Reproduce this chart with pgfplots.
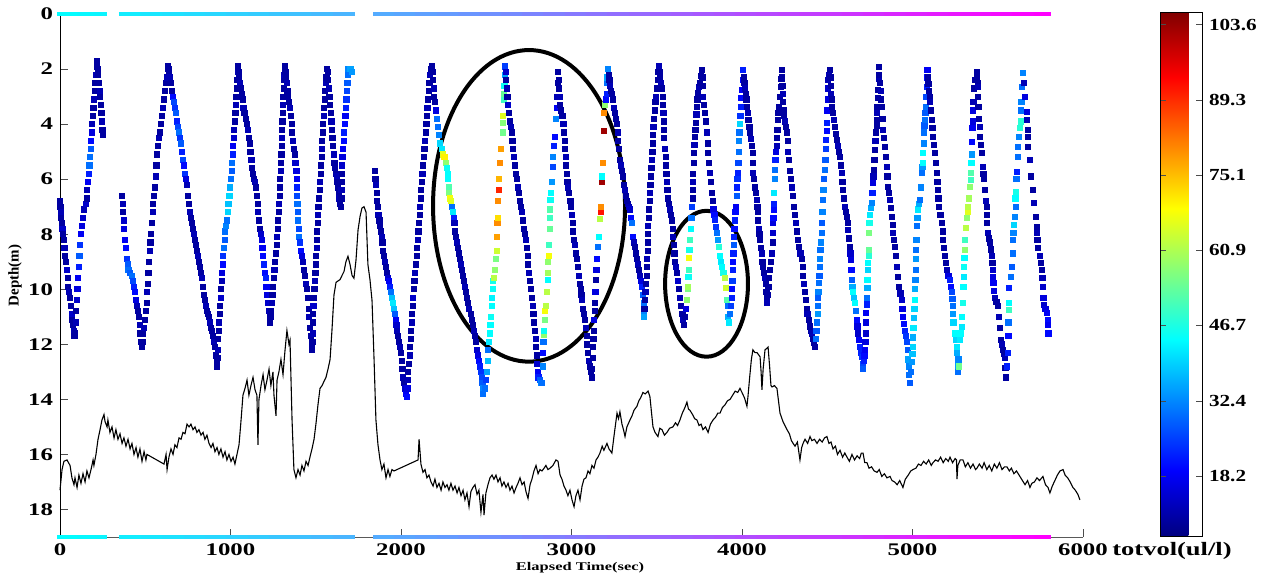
\documentclass[border=0pt]{standalone}
\usepackage{pgfplots}
\pgfplotsset{compat=1.18}
\usepackage{pgfplotstable}
\usepackage{graphicx}
\usepackage{fontspec}
\setmainfont{Liberation Serif}
\pgfplotsset{colormap={timecool}{rgb255=(0,255,255) rgb255=(255,0,255)}}
\newcommand{\sx}[1]{\scalebox{1.4}[1]{#1}}
\newcommand{\scb}[1]{\scalebox{1.25}[1]{#1}}

% yo-yo casts: time (s), depth (m), totvol (ul/l)
\pgfplotstableread[row sep=\\]{
t d c\\
0 6.8 10\\ 2 7.0 10\\ 4 7.2 12\\ 6 7.4 10\\ 10 7.6 10\\ 14 7.8 14\\ 18 8.0 10\\ 22 8.2 10\\ 26 8.5 12\\ 30 8.8 10\\ 35 9.0 10\\ 40 9.3 14\\ 44 9.6 10\\ 48 9.9 10\\ 52 10.1 12\\ 58 10.3 10\\ 64 10.6 10\\ 68 10.9 14\\ 72 11.1 10\\ 76 11.3 10\\ 80 11.5 12\\ 84 11.7 10\\
88 11.6 10\\ 92 11.2 12\\ 95 10.8 10\\ 98 10.4 14\\ 102 10.0 16\\ 106 9.6 18\\ 110 9.2 22\\ 114 8.8 28\\ 118 8.4 24\\ 124 8.0 18\\ 130 7.7 16\\ 136 7.4 14\\ 142 7.1 12\\ 150 6.9 14\\ 156 6.7 10\\ 160 6.4 12\\ 164 6.1 18\\ 168 5.8 22\\ 172 5.5 30\\ 176 5.2 30\\ 180 4.9 28\\ 183 4.6 20\\ 186 4.3 16\\ 189 4.0 12\\ 192 3.7 10\\ 196 3.4 10\\ 200 3.1 12\\ 204 2.8 10\\ 208 2.5 10\\ 212 2.2 12\\ 215 1.9 10\\ 217 1.7 10\\
220 2.0 10\\ 224 2.2 10\\ 228 2.5 10\\ 232 2.8 12\\ 236 3.0 10\\ 240 3.3 10\\ 243 3.6 10\\ 246 3.9 12\\ 249 4.2 10\\ 252 4.4 10\\
364 6.6 10\\ 367 6.9 12\\ 370 7.2 10\\ 373 7.5 14\\ 377 7.8 16\\ 381 8.2 18\\ 386 8.5 20\\ 391 8.9 24\\ 396 9.1 28\\ 401 9.3 30\\ 410 9.4 28\\ 420 9.5 30\\ 426 9.7 26\\ 432 9.9 22\\ 437 10.1 20\\ 443 10.4 16\\ 449 10.6 12\\ 455 10.8 10\\ 461 11.0 10\\ 467 11.3 12\\ 472 11.6 10\\ 477 11.9 10\\ 481 12.1 10\\
484 11.9 10\\ 488 11.6 10\\ 492 11.4 12\\ 497 11.1 10\\ 503 10.8 10\\ 508 10.5 10\\ 512 10.1 12\\ 516 9.8 10\\ 519 9.4 10\\ 522 9.0 10\\ 526 8.6 12\\ 530 8.3 10\\ 535 8.0 10\\ 540 7.6 10\\ 543 7.2 12\\ 547 6.9 10\\ 552 6.6 10\\ 557 6.3 10\\ 561 5.9 12\\ 565 5.5 10\\ 569 5.1 10\\ 574 4.8 10\\ 580 4.5 12\\ 587 4.3 10\\ 593 4.0 10\\ 598 3.7 10\\ 604 3.4 12\\ 610 3.1 10\\ 616 2.8 10\\ 622 2.5 10\\ 628 2.3 12\\ 632 2.0 10\\ 634 1.9 10\\
637 2.0 10\\ 641 2.1 10\\ 645 2.3 12\\ 651 2.5 10\\ 657 2.8 10\\ 664 3.0 20\\ 670 3.2 26\\ 676 3.4 24\\ 682 3.6 28\\ 687 3.9 22\\ 692 4.1 26\\ 698 4.3 30\\ 704 4.5 24\\ 710 4.7 28\\ 716 5.0 22\\ 721 5.3 26\\ 727 5.5 20\\ 733 5.8 24\\ 739 6.0 16\\ 745 6.2 12\\ 751 6.6 10\\ 757 6.9 10\\ 762 7.2 12\\ 768 7.4 10\\ 774 7.6 10\\ 780 7.8 10\\ 786 8.0 12\\ 792 8.2 10\\ 798 8.4 10\\ 804 8.6 10\\ 810 8.8 12\\ 815 9.0 10\\ 821 9.2 10\\ 827 9.4 10\\ 833 9.6 12\\ 839 9.9 10\\ 845 10.2 10\\ 850 10.4 10\\ 856 10.6 12\\ 862 10.8 10\\ 868 10.9 10\\ 874 11.0 10\\ 880 11.2 12\\ 886 11.4 10\\ 892 11.5 10\\ 898 11.7 10\\ 904 11.9 12\\ 909 12.1 10\\ 914 12.4 10\\ 918 12.6 10\\ 921 12.8 10\\
923 12.5 10\\ 925 12.2 12\\ 927 11.8 10\\ 930 11.5 10\\ 933 11.2 12\\ 936 10.9 10\\ 939 10.6 10\\ 942 10.3 14\\ 945 10.0 10\\ 948 9.7 12\\ 951 9.4 16\\ 954 9.1 20\\ 957 8.8 24\\ 961 8.5 30\\ 965 8.2 28\\ 969 7.9 30\\ 974 7.7 32\\ 979 7.5 30\\ 983 7.2 40\\ 988 6.9 38\\ 993 6.6 40\\ 998 6.3 36\\ 1003 6.0 30\\ 1007 5.7 28\\ 1010 5.4 30\\ 1013 5.1 22\\ 1016 4.8 18\\ 1019 4.5 14\\ 1022 4.2 12\\ 1025 3.9 10\\ 1029 3.6 10\\ 1032 3.3 12\\ 1035 3.0 10\\ 1038 2.7 10\\ 1041 2.4 10\\ 1043 2.1 12\\ 1044 1.9 10\\
1047 2.1 10\\ 1051 2.3 10\\ 1056 2.5 12\\ 1061 2.7 10\\ 1066 2.9 10\\ 1071 3.1 10\\ 1076 3.4 12\\ 1082 3.6 10\\ 1088 3.8 10\\ 1094 4.0 10\\ 1100 4.2 12\\ 1106 4.5 10\\ 1112 4.7 10\\ 1117 5.0 10\\ 1122 5.3 12\\ 1127 5.6 10\\ 1133 5.8 10\\ 1139 6.0 10\\ 1145 6.1 12\\ 1150 6.3 10\\ 1155 6.6 10\\ 1159 6.9 10\\ 1163 7.2 12\\ 1167 7.5 10\\ 1172 7.8 10\\ 1177 8.0 14\\ 1182 8.2 16\\ 1187 8.5 18\\ 1191 8.8 20\\ 1196 9.1 22\\ 1201 9.4 20\\ 1206 9.6 22\\ 1211 9.9 18\\ 1216 10.2 16\\ 1221 10.5 14\\ 1226 10.8 12\\ 1230 11.0 10\\ 1233 11.2 10\\
1236 11.0 10\\ 1239 10.8 10\\ 1242 10.5 12\\ 1246 10.2 10\\ 1250 9.9 10\\ 1254 9.6 10\\ 1258 9.3 12\\ 1262 9.0 10\\ 1266 8.7 10\\ 1270 8.4 10\\ 1273 8.1 12\\ 1276 7.8 10\\ 1279 7.5 10\\ 1282 7.2 10\\ 1285 6.9 12\\ 1288 6.6 10\\ 1290 6.3 10\\ 1292 6.0 10\\ 1294 5.7 12\\ 1296 5.4 10\\ 1298 5.1 10\\ 1300 4.8 10\\ 1302 4.5 12\\ 1303 4.2 10\\ 1304 3.9 10\\ 1306 3.6 10\\ 1307 3.3 12\\ 1309 3.0 10\\ 1311 2.7 10\\ 1313 2.4 10\\ 1315 2.2 12\\ 1318 1.9 10\\
1322 2.1 10\\ 1326 2.3 10\\ 1330 2.5 12\\ 1334 2.8 10\\ 1338 3.0 10\\ 1343 3.2 10\\ 1348 3.4 12\\ 1353 3.7 10\\ 1358 4.0 10\\ 1362 4.3 10\\ 1366 4.6 12\\ 1371 4.9 10\\ 1376 5.1 10\\ 1381 5.4 14\\ 1386 5.7 16\\ 1389 6.0 18\\ 1390 6.3 22\\ 1391 6.6 26\\ 1392 6.9 30\\ 1394 7.2 28\\ 1396 7.5 30\\ 1399 7.8 26\\ 1403 8.1 30\\ 1408 8.3 24\\ 1413 8.6 20\\ 1419 8.8 16\\ 1425 9.0 12\\ 1431 9.3 10\\ 1437 9.5 10\\ 1443 9.8 12\\ 1449 10.0 10\\ 1454 10.3 10\\ 1458 10.7 10\\ 1462 11.0 12\\ 1466 11.4 10\\ 1471 11.7 10\\ 1476 12.0 10\\ 1479 12.2 10\\
1480 11.9 10\\ 1482 11.6 12\\ 1483 11.2 10\\ 1484 10.9 10\\ 1486 10.6 14\\ 1489 10.3 10\\ 1492 10.0 10\\ 1495 9.7 12\\ 1498 9.4 10\\ 1501 9.1 10\\ 1503 8.8 10\\ 1505 8.5 12\\ 1507 8.2 10\\ 1509 7.9 10\\ 1511 7.6 10\\ 1513 7.3 12\\ 1516 7.0 10\\ 1519 6.7 10\\ 1522 6.4 10\\ 1525 6.1 12\\ 1528 5.8 10\\ 1531 5.5 10\\ 1534 5.2 10\\ 1536 4.9 12\\ 1538 4.6 10\\ 1540 4.3 10\\ 1542 4.0 10\\ 1546 3.7 12\\ 1550 3.4 10\\ 1553 3.1 10\\ 1556 2.8 10\\ 1559 2.5 12\\ 1562 2.3 10\\ 1565 2.0 10\\
1569 2.1 10\\ 1572 2.4 10\\ 1576 2.7 12\\ 1580 3.0 10\\ 1584 3.3 10\\ 1588 3.6 10\\ 1592 3.9 12\\ 1595 4.2 10\\ 1598 4.5 10\\ 1601 4.8 10\\ 1605 5.1 12\\ 1609 5.4 10\\ 1613 5.6 10\\ 1618 5.8 10\\ 1623 5.9 12\\ 1627 6.1 10\\ 1631 6.3 10\\ 1635 6.5 10\\ 1639 6.7 12\\ 1643 6.9 10\\ 1647 7.0 10\\
1650 6.7 10\\ 1651 6.4 12\\ 1652 6.1 10\\ 1653 5.8 10\\ 1654 5.5 14\\ 1656 5.2 16\\ 1659 4.9 18\\ 1663 4.6 20\\ 1667 4.3 22\\ 1671 4.0 20\\ 1674 3.7 18\\ 1677 3.4 22\\ 1680 3.1 24\\ 1683 2.8 26\\ 1686 2.5 28\\ 1689 2.2 30\\ 1692 2.0 32\\ 1703 2.0 35\\ 1712 2.1 34\\
1847 5.7 10\\ 1850 6.0 10\\ 1854 6.2 12\\ 1857 6.5 10\\ 1860 6.8 10\\ 1864 7.0 10\\ 1868 7.3 12\\ 1873 7.5 10\\ 1878 7.7 10\\ 1882 7.9 10\\ 1887 8.1 12\\ 1891 8.3 10\\ 1896 8.6 10\\ 1901 8.8 10\\ 1906 9.0 12\\ 1912 9.2 10\\ 1918 9.4 10\\ 1924 9.6 14\\ 1930 9.7 18\\ 1936 9.9 22\\ 1942 10.1 30\\ 1948 10.3 38\\ 1953 10.5 42\\ 1958 10.7 38\\ 1963 10.9 28\\ 1968 11.1 18\\ 1973 11.3 14\\ 1978 11.5 12\\ 1983 11.7 10\\ 1988 11.9 10\\ 1993 12.1 12\\ 1998 12.3 10\\ 2003 12.6 10\\ 2008 12.9 10\\ 2013 13.2 12\\ 2018 13.4 10\\ 2024 13.6 14\\ 2030 13.8 18\\ 2035 13.9 20\\
2037 13.6 16\\ 2039 13.3 12\\ 2042 13.0 10\\ 2046 12.7 10\\ 2050 12.4 12\\ 2053 12.1 10\\ 2056 11.8 10\\ 2059 11.5 10\\ 2062 11.2 12\\ 2065 10.9 10\\ 2068 10.6 10\\ 2071 10.3 14\\ 2075 10.0 10\\ 2079 9.7 10\\ 2083 9.4 12\\ 2087 9.1 10\\ 2091 8.8 10\\ 2095 8.5 10\\ 2099 8.2 12\\ 2102 7.9 10\\ 2105 7.6 10\\ 2109 7.3 10\\ 2112 7.0 12\\ 2115 6.7 10\\ 2119 6.4 10\\ 2123 6.1 10\\ 2126 5.8 12\\ 2129 5.5 10\\ 2133 5.2 10\\ 2137 4.9 10\\ 2141 4.6 12\\ 2145 4.3 10\\ 2149 4.0 10\\ 2152 3.7 10\\ 2155 3.4 12\\ 2158 3.1 10\\ 2162 2.8 10\\ 2166 2.5 10\\ 2170 2.2 12\\ 2176 2.0 10\\ 2182 1.9 10\\
2185 2.1 10\\ 2188 2.4 10\\ 2191 2.7 12\\ 2195 3.0 10\\ 2200 3.2 10\\ 2205 3.5 16\\ 2210 3.8 30\\ 2215 4.1 30\\ 2220 4.4 32\\ 2228 4.7 40\\ 2238 4.9 42\\ 2248 5.1 66\\ 2254 5.2 70\\ 2264 5.4 58\\ 2270 5.6 45\\ 2274 5.8 44\\ 2276 6.0 44\\ 2279 6.3 52\\ 2281 6.5 56\\ 2287 6.7 68\\ 2293 6.8 66\\ 2299 7.0 30\\ 2305 7.2 42\\ 2309 7.4 22\\ 2313 7.6 12\\ 2318 7.9 10\\ 2323 8.1 10\\ 2329 8.3 12\\ 2335 8.5 10\\ 2341 8.7 10\\ 2347 8.9 10\\ 2352 9.1 12\\ 2358 9.3 10\\ 2364 9.5 10\\ 2370 9.7 10\\ 2376 9.9 12\\ 2382 10.1 10\\ 2388 10.3 10\\ 2394 10.5 10\\ 2400 10.7 12\\ 2408 10.9 10\\ 2416 11.1 10\\ 2422 11.3 10\\ 2428 11.5 12\\ 2434 11.7 10\\ 2440 11.9 10\\ 2446 12.2 14\\ 2452 12.4 16\\ 2458 12.6 20\\ 2464 12.8 22\\ 2470 13.0 24\\ 2474 13.2 26\\ 2477 13.4 28\\ 2480 13.6 32\\ 2482 13.8 30\\
2490 13.6 30\\ 2498 13.3 25\\ 2504 13.0 35\\ 2508 12.6 38\\ 2512 12.2 30\\ 2516 11.9 42\\ 2520 11.6 44\\ 2524 11.3 44\\ 2528 11.0 45\\ 2531 10.6 44\\ 2534 10.3 43\\ 2538 10.0 45\\ 2541 9.7 46\\ 2545 9.6 62\\ 2551 9.3 58\\ 2557 8.9 56\\ 2561 8.6 64\\ 2563 8.1 78\\ 2565 7.6 80\\ 2568 7.4 72\\ 2569 6.8 80\\ 2572 6.4 90\\ 2575 6.0 76\\ 2578 5.4 80\\ 2586 4.9 78\\ 2596 4.3 55\\ 2598 3.95 57\\ 2600 3.7 66\\ 2602 3.1 50\\ 2604 2.9 54\\ 2606 2.6 45\\ 2608 2.2 35\\ 2610 1.9 25\\
2613 2.1 14\\ 2616 2.4 10\\ 2620 2.7 12\\ 2624 3.0 10\\ 2628 3.3 14\\ 2634 3.6 10\\ 2640 3.9 10\\ 2646 4.1 12\\ 2651 4.3 10\\ 2653 4.6 10\\ 2656 4.9 10\\ 2661 5.2 12\\ 2667 5.5 10\\ 2673 5.8 10\\ 2679 6.0 10\\ 2686 6.3 12\\ 2692 6.5 10\\ 2698 6.8 10\\ 2704 7.0 10\\ 2710 7.2 12\\ 2715 7.5 10\\ 2720 7.8 10\\ 2727 8.0 10\\ 2733 8.2 12\\ 2738 8.5 10\\ 2742 8.8 10\\ 2745 9.1 10\\ 2750 9.4 12\\ 2756 9.7 10\\ 2762 10.0 10\\ 2768 10.3 10\\ 2773 10.6 12\\ 2777 10.9 10\\ 2781 11.2 10\\ 2785 11.5 10\\ 2789 11.8 12\\ 2792 12.1 10\\ 2795 12.4 10\\ 2798 12.7 14\\ 2801 13.0 18\\ 2806 13.2 22\\ 2813 13.3 28\\ 2820 13.4 32\\ 2827 13.4 30\\
2833 12.8 32\\ 2834 12.3 20\\ 2835 11.9 30\\ 2836 11.65 58\\ 2838 11.5 45\\ 2845 11.1 56\\ 2846 10.8 68\\ 2850 10.6 62\\ 2856 10.1 62\\ 2860 9.65 44\\ 2862 9.4 60\\ 2863 9.0 58\\ 2866 8.8 68\\ 2868 8.4 50\\ 2872 7.8 54\\ 2874 7.4 50\\ 2875 7.1 52\\ 2876 6.75 45\\ 2880 6.5 44\\ 2886 6.1 34\\ 2890 5.55 26\\ 2892 5.2 32\\ 2896 4.8 22\\ 2902 4.46 20\\ 2908 3.8 32\\ 2913 3.4 18\\ 2915 3.0 12\\ 2918 2.5 10\\ 2921 2.1 10\\
2924 2.4 10\\ 2927 2.7 10\\ 2930 3.0 12\\ 2933 3.3 10\\ 2940 3.5 10\\ 2947 3.7 10\\ 2952 4.0 12\\ 2956 4.3 10\\ 2960 4.6 10\\ 2963 4.9 10\\ 2966 5.2 12\\ 2969 5.5 10\\ 2972 5.8 10\\ 2976 6.1 10\\ 2981 6.3 12\\ 2987 6.5 10\\ 2993 6.8 10\\ 2998 7.0 10\\ 3002 7.3 12\\ 3006 7.6 10\\ 3010 7.9 10\\ 3015 8.2 10\\ 3020 8.4 12\\ 3026 8.7 10\\ 3032 8.9 10\\ 3038 9.2 10\\ 3043 9.5 12\\ 3048 9.8 10\\ 3053 10.0 10\\ 3058 10.2 10\\ 3063 10.4 12\\ 3068 10.7 10\\ 3074 10.9 10\\ 3079 11.1 10\\ 3084 11.4 12\\ 3088 11.7 10\\ 3092 12.0 10\\ 3096 12.3 10\\ 3101 12.6 12\\ 3106 12.8 10\\ 3112 13.0 10\\ 3118 13.2 10\\
3122 12.9 10\\ 3124 12.5 10\\ 3126 12.1 10\\ 3128 11.8 10\\ 3130 11.5 10\\ 3132 11.1 16\\ 3135 10.8 10\\ 3138 10.5 10\\ 3140 10.1 16\\ 3144 9.65 10\\ 3146 9.3 16\\ 3150 8.9 20\\ 3155 8.45 30\\ 3161 8.1 44\\ 3167 7.45 62\\ 3172 7.2 92\\ 3173 7.0 80\\ 3179 6.1 103\\ 3180 5.9 44\\ 3185 5.4 80\\ 3188 4.25 103\\ 3190 3.6 80\\ 3196 3.3 58\\ 3202 3.1 20\\ 3206 2.9 22\\ 3208 2.5 30\\ 3211 2.3 35\\ 3214 2.0 32\\
3218 2.2 10\\ 3222 2.4 10\\ 3227 2.6 12\\ 3232 2.8 10\\ 3237 2.9 10\\ 3243 3.1 10\\ 3249 3.4 12\\ 3255 3.6 10\\ 3261 3.8 10\\ 3267 4.0 10\\ 3270 4.3 12\\ 3273 4.6 10\\ 3278 4.9 10\\ 3284 5.3 10\\ 3290 5.5 12\\ 3296 5.7 10\\ 3302 5.9 10\\ 3308 6.2 10\\ 3314 6.4 12\\ 3320 6.6 10\\ 3326 6.8 10\\ 3332 6.9 10\\ 3338 7.0 12\\ 3344 7.1 14\\ 3350 7.4 20\\ 3356 7.6 30\\ 3362 8.1 20\\ 3367 8.3 12\\ 3372 8.45 10\\ 3378 8.7 10\\ 3384 8.9 10\\ 3390 9.1 12\\ 3396 9.3 10\\ 3402 9.5 12\\ 3408 9.7 16\\ 3414 9.9 22\\ 3419 10.2 28\\ 3423 10.5 30\\ 3425 10.8 32\\ 3426 11.0 35\\
3428 10.7 10\\ 3431 10.4 10\\ 3434 10.1 12\\ 3437 9.8 10\\ 3440 9.5 10\\ 3442 9.2 10\\ 3444 8.9 12\\ 3446 8.6 10\\ 3447 8.3 10\\ 3448 8.0 10\\ 3450 7.7 12\\ 3453 7.4 10\\ 3456 7.1 10\\ 3459 6.8 10\\ 3461 6.5 12\\ 3463 6.2 10\\ 3466 5.9 10\\ 3469 5.6 10\\ 3472 5.3 12\\ 3474 5.0 10\\ 3476 4.7 10\\ 3478 4.4 10\\ 3480 4.1 12\\ 3483 3.8 10\\ 3487 3.5 10\\ 3492 3.2 10\\ 3497 3.0 12\\ 3501 2.7 10\\ 3505 2.4 10\\ 3509 2.1 10\\ 3513 1.9 12\\
3516 2.1 10\\ 3520 2.3 10\\ 3525 2.5 12\\ 3530 2.7 10\\ 3534 3.0 10\\ 3537 3.3 10\\ 3539 3.6 12\\ 3540 3.9 10\\ 3541 4.2 10\\ 3544 4.5 10\\ 3548 4.9 12\\ 3552 5.2 10\\ 3555 5.5 10\\ 3557 5.8 10\\ 3559 6.1 12\\ 3562 6.4 10\\ 3567 6.7 10\\ 3573 6.9 10\\ 3578 7.1 12\\ 3584 7.3 10\\ 3589 7.5 10\\ 3593 7.8 10\\ 3596 8.1 12\\ 3600 8.4 10\\ 3604 8.7 10\\ 3608 9.0 10\\ 3613 9.2 12\\ 3619 9.4 10\\ 3625 9.7 14\\ 3631 10.0 10\\ 3637 10.3 12\\ 3643 10.6 10\\ 3650 10.9 10\\ 3655 11.1 12\\ 3660 11.3 10\\
3665 11.0 10\\ 3671 10.7 16\\ 3677 10.4 58\\ 3683 10.0 56\\ 3684 9.9 60\\ 3686 9.55 45\\ 3689 9.3 50\\ 3690 8.86 68\\ 3691 8.57 46\\ 3695 8.2 50\\ 3698 7.8 44\\ 3703 7.4 30\\ 3707 7.0 25\\ 3710 6.7 10\\ 3712 6.4 10\\ 3713 6.1 12\\ 3714 5.8 10\\ 3716 5.4 10\\ 3718 5.05 10\\ 3721 4.75 12\\ 3724 4.46 10\\ 3727 4.2 10\\ 3730 3.96 10\\ 3733 3.65 12\\ 3736 3.38 10\\ 3739 3.1 10\\ 3742 2.87 10\\ 3748 2.65 12\\ 3754 2.5 10\\ 3759 2.25 10\\ 3765 2.03 10\\
3768 2.3 10\\ 3770 2.6 10\\ 3771 3.0 12\\ 3777 3.3 10\\ 3783 3.6 10\\ 3789 3.9 10\\ 3795 4.3 12\\ 3798 4.7 10\\ 3801 5.05 10\\ 3806 5.4 10\\ 3812 5.77 12\\ 3818 6.1 10\\ 3824 6.5 10\\ 3828 6.8 10\\ 3832 7.1 16\\ 3838 7.3 20\\ 3842 7.48 22\\ 3847 7.73 24\\ 3853 7.95 30\\ 3859 8.2 34\\ 3865 8.45 48\\ 3871 8.8 44\\ 3877 9.0 42\\ 3883 9.2 44\\ 3891 9.4 46\\ 3900 9.6 62\\ 3906 9.95 64\\ 3912 10.4 52\\ 3915 10.6 30\\ 3918 11.0 36\\ 3924 11.2 42\\
3928 10.9 30\\ 3934 10.6 25\\ 3939 10.3 22\\ 3942 10.0 20\\ 3944 9.7 25\\ 3946 9.3 22\\ 3948 9.0 20\\ 3950 8.7 22\\ 3952 8.4 28\\ 3953 8.1 22\\ 3955 7.8 20\\ 3958 7.5 22\\ 3961 7.2 20\\ 3965 7.0 18\\ 3968 6.6 28\\ 3971 6.3 22\\ 3973 6.0 24\\ 3976 5.77 22\\ 3979 5.4 26\\ 3981 5.0 30\\ 3983 4.6 32\\ 3985 4.3 30\\ 3988 4.0 40\\ 3991 3.7 24\\ 3994 3.38 22\\ 3997 3.05 20\\ 4000 2.76 18\\ 4003 2.4 20\\ 4006 2.03 22\\
4010 2.3 10\\ 4014 2.5 10\\ 4018 2.7 12\\ 4022 2.9 10\\ 4026 3.1 10\\ 4029 3.38 10\\ 4034 3.6 12\\ 4038 3.85 10\\ 4043 4.1 10\\ 4047 4.3 10\\ 4052 4.55 12\\ 4057 4.8 10\\ 4062 5.05 10\\ 4064 5.4 10\\ 4066 5.77 12\\ 4071 6.0 10\\ 4076 6.3 10\\ 4082 6.5 10\\ 4088 6.75 12\\ 4090 7.0 10\\ 4092 7.2 10\\ 4094 7.5 10\\ 4098 7.8 12\\ 4102 8.0 10\\ 4106 8.2 10\\ 4111 8.5 10\\ 4117 8.7 12\\ 4120 9.0 10\\ 4124 9.2 10\\ 4129 9.4 10\\ 4135 9.6 12\\ 4139 9.8 10\\ 4143 10.1 10\\ 4146 10.3 10\\ 4148 10.5 12\\
4151 10.2 10\\ 4155 9.9 10\\ 4160 9.6 10\\ 4164 9.3 10\\ 4170 9.0 10\\ 4176 8.7 12\\ 4179 8.3 10\\ 4182 7.95 14\\ 4183 7.6 16\\ 4184 7.4 20\\ 4185 7.1 20\\ 4186 6.9 22\\ 4188 6.5 42\\ 4193 6.0 32\\ 4194 5.66 30\\ 4196 5.3 22\\ 4200 5.0 16\\ 4205 4.8 12\\ 4206 4.5 10\\ 4208 4.2 10\\ 4211 3.85 10\\ 4214 3.6 10\\ 4217 3.38 10\\ 4222 3.0 10\\ 4229 2.65 10\\ 4231 2.35 10\\ 4234 2.03 10\\
4236 2.3 10\\ 4237 2.6 10\\ 4238 2.9 12\\ 4239 3.2 10\\ 4244 3.5 10\\ 4248 3.7 10\\ 4252 3.9 12\\ 4258 4.1 10\\ 4264 4.3 10\\ 4267 4.6 10\\ 4270 5.0 12\\ 4275 5.3 10\\ 4281 5.7 10\\ 4287 6.0 10\\ 4293 6.3 12\\ 4299 6.6 10\\ 4305 7.0 10\\ 4311 7.3 10\\ 4317 7.6 12\\ 4323 7.9 10\\ 4329 8.2 10\\ 4334 8.45 10\\ 4343 8.7 12\\ 4352 8.9 10\\ 4356 9.2 10\\ 4359 9.5 10\\ 4364 9.8 12\\ 4369 10.1 10\\ 4374 10.4 10\\ 4379 10.7 10\\ 4384 10.9 12\\ 4392 11.1 10\\ 4399 11.35 10\\ 4405 11.5 10\\ 4410 11.6 12\\ 4416 11.8 10\\ 4422 11.95 10\\ 4428 12.1 10\\
4432 11.8 30\\ 4436 11.5 28\\ 4440 11.2 30\\ 4443 10.9 34\\ 4446 10.6 30\\ 4447 10.3 28\\ 4448 10.1 32\\ 4450 9.76 30\\ 4454 9.5 28\\ 4457 9.2 30\\ 4458 8.9 32\\ 4460 8.57 30\\ 4464 8.3 32\\ 4469 7.95 30\\ 4470 7.6 28\\ 4471 7.2 32\\ 4475 6.75 30\\ 4477 6.4 32\\ 4480 6.0 28\\ 4487 5.66 30\\ 4489 5.3 28\\ 4491 4.9 25\\ 4493 4.57 22\\ 4496 4.25 20\\ 4498 3.96 22\\ 4499 3.5 18\\ 4502 3.1 16\\ 4504 2.7 14\\ 4506 2.4 12\\ 4512 2.2 12\\ 4516 2.03 10\\
4518 2.3 10\\ 4520 2.6 10\\ 4522 2.9 12\\ 4525 3.1 10\\ 4528 3.38 10\\ 4534 3.6 10\\ 4540 3.85 12\\ 4545 4.1 10\\ 4551 4.35 10\\ 4557 4.57 10\\ 4563 4.8 12\\ 4569 5.0 10\\ 4575 5.2 10\\ 4580 5.5 10\\ 4586 5.77 12\\ 4589 6.1 10\\ 4592 6.4 10\\ 4598 6.7 10\\ 4604 7.0 12\\ 4610 7.2 10\\ 4616 7.37 10\\ 4619 7.6 10\\ 4622 7.84 12\\ 4628 8.15 10\\ 4633 8.45 10\\ 4636 8.7 14\\ 4639 8.93 16\\ 4642 9.3 20\\ 4645 9.65 28\\ 4648 9.9 36\\ 4651 10.1 44\\ 4657 10.3 38\\ 4663 10.5 44\\ 4668 10.8 30\\ 4674 11.1 20\\ 4677 11.35 16\\ 4680 11.6 14\\ 4686 11.85 18\\ 4692 12.1 22\\ 4698 12.3 22\\ 4704 12.45 24\\ 4707 12.7 26\\ 4710 12.9 28\\
4714 12.6 22\\ 4718 12.4 20\\ 4721 12.2 18\\ 4724 11.9 16\\ 4727 11.6 14\\ 4728 11.2 16\\ 4729 10.85 18\\ 4731 10.55 22\\ 4733 10.3 30\\ 4735 9.95 36\\ 4736 9.65 44\\ 4738 9.3 40\\ 4739 9.04 44\\ 4742 8.8 48\\ 4745 8.57 54\\ 4744 7.95 56\\ 4747 7.6 46\\ 4751 7.3 42\\ 4757 7.05 36\\ 4762 6.86 32\\ 4765 6.5 22\\ 4768 6.13 16\\ 4771 5.9 12\\ 4774 5.66 10\\ 4777 5.3 10\\ 4780 4.94 10\\ 4783 4.6 12\\ 4786 4.3 10\\ 4789 4.05 10\\ 4792 3.85 10\\ 4793 3.6 12\\ 4794 3.38 10\\ 4796 3.05 10\\ 4798 2.76 10\\ 4801 2.35 12\\ 4803 1.92 10\\
4805 2.2 10\\ 4809 2.5 10\\ 4813 2.8 12\\ 4817 3.1 10\\ 4821 3.38 10\\ 4824 3.8 10\\ 4827 4.2 12\\ 4833 4.5 10\\ 4839 4.83 10\\ 4845 5.2 10\\ 4850 5.55 12\\ 4853 5.9 10\\ 4856 6.28 10\\ 4862 6.5 10\\ 4868 6.75 12\\ 4874 7.05 10\\ 4880 7.37 10\\ 4883 7.65 10\\ 4886 7.95 12\\ 4891 8.2 10\\ 4897 8.45 10\\ 4903 8.8 10\\ 4909 9.2 12\\ 4915 9.55 10\\ 4921 9.9 10\\ 4929 10.15 12\\ 4938 10.4 14\\ 4941 10.7 16\\ 4944 11.0 18\\ 4950 11.25 20\\ 4956 11.5 22\\ 4962 11.7 24\\ 4968 11.9 26\\ 4971 12.2 28\\ 4974 12.55 35\\ 4977 12.8 32\\ 4980 13.1 30\\ 4985 13.4 28\\
4991 13.0 30\\ 4997 12.65 34\\ 5000 12.35 38\\ 5003 12.1 40\\ 5004 11.75 36\\ 5005 11.4 42\\ 5008 11.05 38\\ 5011 10.7 40\\ 5015 10.4 44\\ 5016 10.0 36\\ 5017 9.65 32\\ 5018 9.3 30\\ 5020 8.9 34\\ 5021 8.57 30\\ 5023 8.2 32\\ 5026 7.7 30\\ 5029 7.4 34\\ 5032 7.1 42\\ 5038 6.9 36\\ 5044 6.75 30\\ 5050 6.3 32\\ 5056 5.77 30\\ 5058 5.55 34\\ 5061 5.4 44\\ 5063 5.05 44\\ 5065 4.7 32\\ 5067 4.3 30\\ 5070 4.05 28\\ 5073 3.85 30\\ 5076 3.6 28\\ 5079 3.38 30\\ 5081 3.0 26\\ 5085 2.65 22\\ 5086 2.3 20\\ 5087 2.03 18\\
5090 2.3 10\\ 5093 2.55 10\\ 5096 2.8 10\\ 5100 3.0 10\\ 5103 3.2 12\\ 5108 3.5 10\\ 5114 3.85 10\\ 5117 4.15 10\\ 5120 4.46 10\\ 5126 4.75 10\\ 5132 5.05 10\\ 5137 5.4 10\\ 5143 5.77 10\\ 5146 6.1 10\\ 5149 6.4 10\\ 5152 6.7 10\\ 5155 7.0 10\\ 5164 7.3 10\\ 5173 7.6 10\\ 5176 7.9 10\\ 5179 8.2 10\\ 5185 8.5 10\\ 5190 8.8 10\\ 5196 9.05 10\\ 5202 9.3 12\\ 5211 9.5 16\\ 5220 9.65 22\\ 5226 9.9 20\\ 5231 10.1 26\\ 5234 10.35 28\\ 5237 10.6 30\\ 5238 10.9 34\\ 5240 11.2 40\\ 5249 11.6 44\\ 5255 11.85 40\\ 5261 12.1 42\\ 5262 12.3 36\\ 5264 12.55 32\\ 5265 12.8 34\\ 5267 13.0 30\\
5270 12.8 55\\ 5273 12.55 32\\ 5278 11.83 42\\ 5284 11.6 44\\ 5290 11.36 42\\ 5292 11.0 44\\ 5296 10.5 46\\ 5298 9.9 44\\ 5300 9.55 42\\ 5302 9.2 45\\ 5304 8.86 44\\ 5307 8.57 58\\ 5309 8.2 50\\ 5313 7.77 62\\ 5319 7.4 58\\ 5323 7.2 66\\ 5326 7.0 62\\ 5331 6.7 60\\ 5337 6.28 58\\ 5343 6.03 50\\ 5344 5.77 52\\ 5345 5.4 44\\ 5349 5.1 34\\ 5350 4.65 20\\ 5351 4.14 18\\ 5352 3.9 16\\ 5355 3.5 16\\ 5357 3.2 12\\ 5359 2.7 10\\ 5366 2.4 10\\ 5378 2.1 10\\
5380 2.3 10\\ 5382 2.5 10\\ 5384 2.65 12\\ 5385 3.0 10\\ 5386 3.38 10\\ 5390 3.8 10\\ 5393 4.1 12\\ 5396 4.46 10\\ 5402 4.75 10\\ 5408 5.05 10\\ 5413 5.55 12\\ 5416 5.8 10\\ 5419 6.0 10\\ 5425 6.4 10\\ 5431 6.8 12\\ 5437 7.0 10\\ 5437 7.3 10\\ 5438 7.6 10\\ 5443 7.95 12\\ 5449 8.15 10\\ 5454 8.3 10\\ 5460 8.55 10\\ 5466 8.8 12\\ 5469 9.05 10\\ 5472 9.3 14\\ 5473 9.55 16\\ 5474 9.76 18\\ 5479 10.05 16\\ 5484 10.3 12\\ 5492 10.45 10\\ 5501 10.6 10\\ 5507 11.0 12\\ 5513 11.4 10\\ 5519 11.83 10\\ 5525 12.0 12\\ 5531 12.2 10\\ 5536 12.35 10\\ 5542 12.5 12\\ 5545 12.85 10\\ 5548 13.2 10\\
5552 12.8 22\\ 5560 12.3 22\\ 5562 11.7 20\\ 5563 11.2 30\\ 5564 10.75 50\\ 5565 10.5 44\\ 5566 9.95 22\\ 5577 9.55 30\\ 5583 9.2 28\\ 5589 8.7 30\\ 5590 8.2 30\\ 5592 7.95 32\\ 5595 7.65 40\\ 5600 7.37 32\\ 5607 7.0 30\\ 5604 6.7 44\\ 5608 6.45 46\\ 5609 6.0 30\\ 5613 5.73 22\\ 5619 5.2 30\\ 5620 4.83 30\\ 5624 4.46 32\\ 5630 4.14 48\\ 5634 3.9 48\\ 5636 3.5 30\\ 5639 3.2 32\\ 5642 2.65 30\\ 5648 2.14 32\\
5654 2.5 12\\ 5660 3.0 16\\ 5671 3.56 16\\ 5673 3.85 12\\ 5677 4.2 10\\ 5678 4.46 10\\ 5679 4.83 10\\ 5689 5.3 12\\ 5695 5.9 10\\ 5707 6.4 10\\ 5713 6.86 12\\ 5724 7.37 10\\ 5730 7.73 10\\ 5731 7.95 12\\ 5732 8.2 10\\ 5736 8.5 10\\ 5748 8.8 12\\ 5754 9.04 10\\ 5759 9.3 10\\ 5762 9.6 12\\ 5765 9.9 14\\ 5768 10.3 16\\ 5771 10.56 14\\ 5780 10.7 16\\ 5789 10.85 18\\ 5795 11.1 20\\ 5796 11.3 18\\ 5797 11.6 20\\
}\casts

% bottom depth trace
\pgfplotstableread[row sep=\\]{
t d\\
0 17.3\\ 12 16.55\\ 23 16.25\\ 41 16.2\\ 59 16.4\\ 70 16.85\\ 82 17.1\\ 88 16.85\\ 100 17.2\\ 111 16.75\\ 123 17.05\\ 135 16.7\\ 147 17.0\\ 158 16.6\\ 170 16.85\\ 182 16.55\\ 194 16.2\\ 199 16.4\\ 211 16.0\\ 223 15.45\\ 235 15.1\\ 246 14.75\\ 258 14.55\\ 264 14.8\\ 276 15.0\\ 281 14.75\\ 293 15.2\\ 305 15.0\\ 317 15.4\\ 328 15.1\\ 340 15.45\\ 352 15.25\\ 364 15.6\\ 375 15.4\\ 387 15.7\\ 399 15.45\\ 411 15.8\\ 422 15.6\\ 434 16.0\\ 446 15.75\\ 457 16.1\\ 469 15.8\\ 481 16.25\\ 493 15.9\\ 504 16.2\\ 510 16.0\\
610 16.35\\ 622 16.0\\ 628 16.55\\ 639 16.1\\ 651 15.8\\ 663 16.0\\ 674 15.65\\ 686 15.75\\ 698 15.4\\ 710 15.45\\ 721 15.2\\ 733 15.25\\ 745 14.9\\ 757 15.0\\ 768 14.9\\ 780 15.1\\ 792 15.0\\ 803 15.2\\ 815 15.1\\ 827 15.3\\ 839 15.2\\ 850 15.45\\ 862 15.3\\ 874 15.6\\ 886 15.75\\ 897 15.6\\ 909 15.9\\ 921 15.75\\ 932 16.0\\ 944 15.8\\ 956 16.1\\ 968 15.9\\ 979 16.2\\ 991 16.0\\ 1003 16.25\\ 1015 16.1\\ 1026 16.35\\ 1038 16.0\\
1050 15.65\\ 1062 14.75\\ 1073 13.85\\ 1085 13.6\\ 1097 13.3\\ 1108 13.85\\ 1120 13.5\\ 1132 13.2\\ 1144 13.65\\ 1155 13.85\\ 1161 15.65\\ 1167 14.0\\ 1179 13.5\\ 1191 13.1\\ 1202 13.65\\ 1214 13.3\\ 1226 12.9\\ 1237 13.5\\ 1249 13.0\\ 1255 13.85\\ 1267 14.6\\ 1273 13.3\\ 1284 13.0\\ 1296 12.55\\ 1308 13.1\\ 1320 12.2\\ 1331 11.5\\ 1343 12.0\\ 1349 11.85\\ 1361 14.75\\ 1372 16.55\\ 1384 16.85\\ 1396 16.55\\ 1408 16.75\\ 1419 16.4\\ 1431 16.6\\ 1443 16.25\\ 1455 16.4\\ 1466 16.1\\ 1478 15.8\\ 1490 15.45\\ 1501 14.9\\ 1513 14.2\\ 1525 13.6\\ 1537 13.5\\ 1548 13.35\\ 1560 13.2\\ 1572 12.9\\ 1584 12.55\\ 1595 11.5\\ 1607 10.2\\ 1619 9.75\\ 1630 9.7\\ 1642 9.65\\ 1654 9.5\\ 1666 9.35\\ 1677 9.0\\ 1689 8.8\\ 1701 9.1\\ 1713 9.5\\ 1724 9.6\\ 1736 8.95\\ 1748 7.85\\ 1760 7.35\\ 1771 7.05\\ 1783 7.0\\ 1795 7.2\\ 1806 9.1\\ 1818 9.65\\ 1830 10.4\\ 1842 12.55\\ 1853 14.75\\ 1865 15.65\\ 1877 16.2\\ 1888 16.55\\ 1900 16.35\\ 1912 16.85\\ 1924 16.55\\ 1935 16.8\\ 1947 16.55\\ 1959 16.6\\
2100 16.2\\ 2106 15.45\\ 2117 16.35\\ 2129 16.65\\ 2141 16.55\\ 2152 16.85\\ 2164 16.75\\ 2176 17.0\\ 2188 17.15\\ 2199 16.9\\ 2211 17.2\\ 2223 17.05\\ 2235 17.3\\ 2246 17.0\\ 2258 17.2\\ 2270 17.1\\ 2281 17.3\\ 2293 17.05\\ 2305 17.3\\ 2317 17.15\\ 2329 17.4\\ 2340 17.2\\ 2352 17.5\\ 2364 17.3\\ 2375 17.65\\ 2387 17.4\\ 2399 17.9\\ 2410 17.35\\ 2422 17.2\\ 2434 17.1\\ 2446 17.45\\ 2457 17.3\\ 2469 18.1\\ 2481 17.45\\ 2487 18.2\\ 2498 17.4\\ 2510 17.1\\ 2522 16.85\\ 2534 16.75\\ 2545 16.9\\ 2557 16.75\\ 2569 17.0\\ 2581 16.85\\ 2592 17.15\\ 2604 17.0\\ 2616 17.2\\ 2628 17.05\\ 2639 17.3\\ 2651 17.15\\ 2663 17.4\\ 2675 17.2\\ 2686 17.05\\ 2698 16.85\\ 2710 17.1\\ 2722 17.0\\ 2733 17.35\\ 2745 17.6\\ 2757 17.1\\ 2768 16.9\\ 2780 16.6\\ 2792 16.4\\ 2804 16.7\\ 2815 16.55\\ 2827 16.6\\ 2839 16.5\\ 2850 16.4\\ 2862 16.55\\ 2874 16.5\\ 2891 16.4\\ 2909 16.2\\ 2921 16.25\\ 2933 16.75\\ 2944 16.9\\ 2956 17.15\\ 2968 17.3\\ 2979 17.5\\ 2991 17.3\\ 3003 17.65\\ 3015 17.9\\ 3026 17.5\\ 3038 17.3\\ 3050 17.65\\ 3062 17.15\\ 3073 16.9\\ 3085 16.85\\ 3097 16.6\\ 3108 16.7\\ 3120 16.4\\ 3132 16.5\\ 3144 16.2\\ 3155 16.1\\
3167 15.95\\ 3180 15.7\\ 3190 15.85\\ 3208 15.6\\ 3220 15.8\\ 3237 15.95\\ 3250 15.3\\ 3267 14.5\\ 3276 14.7\\ 3284 14.45\\ 3296 14.9\\ 3305 15.1\\ 3314 15.35\\ 3325 15.0\\ 3343 14.75\\ 3355 14.6\\ 3366 14.4\\ 3384 14.25\\ 3395 14.05\\ 3405 13.95\\ 3419 13.75\\ 3432 13.8\\ 3449 13.7\\ 3460 13.9\\ 3468 14.4\\ 3478 15.0\\ 3490 15.2\\ 3507 15.35\\ 3518 15.05\\ 3531 15.1\\ 3545 15.3\\ 3560 15.2\\ 3575 15.05\\ 3595 15.0\\ 3610 14.85\\ 3622 14.95\\ 3636 14.75\\ 3650 14.5\\ 3665 14.3\\ 3677 14.1\\ 3686 14.35\\ 3695 14.4\\ 3710 14.55\\ 3722 14.7\\ 3736 14.75\\ 3748 14.95\\ 3760 14.9\\ 3771 15.1\\ 3786 15.0\\ 3801 15.2\\ 3815 14.9\\ 3830 14.75\\ 3845 14.65\\ 3858 14.5\\ 3871 14.5\\ 3885 14.3\\ 3900 14.2\\ 3915 14.05\\ 3930 14.0\\ 3945 13.85\\ 3960 13.7\\ 3975 13.75\\ 3988 13.6\\ 4000 13.75\\ 4015 13.95\\ 4029 14.25\\ 4035 13.9\\ 4045 13.2\\ 4055 12.55\\ 4064 12.2\\ 4076 12.3\\ 4088 12.3\\ 4100 12.4\\ 4106 12.45\\ 4112 13.0\\ 4117 13.65\\ 4124 12.9\\ 4135 12.2\\ 4145 12.15\\ 4153 12.1\\ 4162 12.8\\ 4170 13.5\\ 4176 13.55\\ 4190 13.5\\ 4205 13.6\\ 4215 14.1\\ 4223 14.5\\ 4240 14.8\\ 4252 14.95\\ 4264 15.1\\ 4278 15.25\\ 4290 15.5\\ 4300 15.6\\ 4311 15.7\\ 4325 15.55\\ 4340 16.2\\ 4350 15.75\\ 4358 15.6\\ 4370 15.45\\ 4385 15.6\\ 4399 15.35\\ 4410 15.5\\ 4425 15.45\\ 4440 15.6\\ 4455 15.45\\ 4470 15.55\\ 4484 15.4\\ 4498 15.35\\ 4510 15.6\\ 4522 15.55\\ 4534 15.8\\ 4548 15.7\\ 4560 16.0\\ 4575 15.85\\ 4590 16.1\\ 4603 15.95\\ 4616 16.1\\ 4630 16.25\\ 4645 16.0\\ 4660 16.2\\ 4675 16.05\\ 4690 16.15\\ 4700 15.95\\ 4710 15.95\\ 4720 16.3\\ 4733 16.3\\ 4745 16.5\\ 4760 16.45\\ 4775 16.6\\ 4792 16.65\\ 4805 16.55\\ 4820 16.8\\ 4835 16.7\\ 4850 16.85\\ 4868 16.8\\ 4880 16.95\\ 4895 17.0\\ 4910 17.1\\ 4925 16.95\\ 4944 17.2\\ 4958 16.9\\ 4975 16.75\\ 4990 16.6\\ 5003 16.55\\ 5020 16.5\\ 5035 16.35\\ 5050 16.4\\ 5065 16.25\\ 5080 16.35\\ 5095 16.2\\ 5110 16.4\\ 5120 16.3\\ 5135 16.2\\ 5150 16.25\\ 5165 16.1\\ 5180 16.3\\ 5195 16.15\\ 5210 16.25\\ 5220 16.1\\ 5235 16.3\\ 5250 16.15\\ 5258 16.2\\ 5261 16.9\\ 5266 16.4\\ 5280 16.2\\ 5296 16.2\\ 5310 16.45\\ 5325 16.3\\ 5340 16.5\\ 5355 16.35\\ 5370 16.55\\ 5378 16.5\\ 5392 16.35\\ 5408 16.5\\ 5420 16.3\\ 5436 16.55\\ 5450 16.4\\ 5465 16.6\\ 5480 16.35\\ 5495 16.5\\ 5510 16.3\\ 5525 16.55\\ 5540 16.45\\ 5554 16.45\\ 5568 16.6\\ 5580 16.5\\ 5595 16.7\\ 5610 16.6\\ 5630 16.8\\ 5645 16.95\\ 5660 17.1\\ 5675 16.95\\ 5689 17.2\\ 5700 17.05\\ 5715 17.0\\ 5730 16.85\\ 5745 16.95\\ 5765 16.8\\ 5780 17.1\\ 5795 17.2\\ 5806 17.4\\ 5820 17.15\\ 5835 16.95\\ 5850 16.75\\ 5865 16.6\\ 5883 16.55\\ 5895 16.75\\ 5910 16.85\\ 5925 17.0\\ 5941 17.2\\ 5955 17.3\\ 5970 17.45\\ 5982 17.65\\
}\bottomtrace

% time-coded bars (meta runs with elapsed time)
\pgfplotstableread[row sep=\\]{
t m\\ -15 6.8\\ 100 8.5\\ 200 10.2\\ 275 11.5\\
}\barA
\pgfplotstableread[row sep=\\]{
t m\\ 346 12.7\\ 475 14.9\\ 600 17.0\\ 725 19.2\\ 850 21.3\\ 975 23.4\\ 1100 25.6\\ 1225 27.7\\ 1350 29.8\\ 1475 32.0\\ 1600 34.1\\ 1730 36.3\\
}\barB
\pgfplotstableread[row sep=\\]{
t m\\ 1836 38.1\\ 1960 40.3\\ 2085 42.4\\ 2210 44.5\\ 2335 46.7\\ 2460 48.8\\ 2585 50.9\\ 2710 53.1\\ 2835 55.2\\ 2960 57.3\\ 3085 59.5\\ 3210 61.6\\ 3335 63.7\\ 3460 65.9\\ 3585 68.0\\ 3710 70.1\\ 3835 72.3\\ 3960 74.4\\ 4085 76.5\\ 4210 78.7\\ 4335 80.8\\ 4460 82.9\\ 4585 85.1\\ 4710 87.2\\ 4835 89.4\\ 4960 91.5\\ 5085 93.6\\ 5210 95.8\\ 5335 97.9\\ 5460 100.0\\ 5585 102.2\\ 5710 104.3\\ 5812 106.0\\
}\barC

\begin{document}
\begin{tikzpicture}
\useasboundingbox (-30bp,-19.5bp) rectangle (609.5bp,268.5bp);
\begin{axis}[
  at={(0,0)}, anchor=south west,
  scale only axis, width=511.5bp, height=261.5bp,
  xmin=0, xmax=6000, ymin=0, ymax=19, y dir=reverse,
  axis x line*=bottom, axis y line*=left,
  axis line style={-},
  x axis line style={gray!70!black},
  clip=false,
  xtick={0,1000,2000,3000,4000,5000,6000},
  xticklabels={\sx{0},\sx{1000},\sx{2000},\sx{3000},\sx{4000},\sx{5000},\sx{6000}},
  ytick={0,2,4,6,8,10,12,14,16,18},
  yticklabels={\sx{0},\sx{2},\sx{4},\sx{6},\sx{8},\sx{10},\sx{12},\sx{14},\sx{16},\sx{18}},
  ticklabel style={font=\fontsize{8.9}{10}\selectfont\bfseries},
  tick align=inside, major tick length=4bp,
  tick style={gray!60!black},
  colormap/jet,
  point meta min=6.8, point meta max=106,
  colorbar,
  colorbar style={
    at={(parent axis.south east)}, anchor=south west, xshift=30bp, yshift=0.5bp,
    scale only axis, width=21bp, height=262bp,
    ytick={18.2,32.4,46.7,60.9,75.1,89.3,103.6},
    yticklabels={\scb{18.2},\scb{32.4},\scb{46.7},\scb{60.9},\scb{75.1},\scb{89.3},\scb{103.6}},
    yticklabel style={font=\fontsize{8.5}{10}\selectfont\bfseries},
    major tick length=3bp,
  },
]
\addplot[mesh, colormap name=timecool, line width=2.2bp, point meta=explicit, no marks] table[x=t, y expr=0, meta=m] {\barA};
\addplot[mesh, colormap name=timecool, line width=2.2bp, point meta=explicit, no marks] table[x=t, y expr=0, meta=m] {\barB};
\addplot[mesh, colormap name=timecool, line width=2.2bp, point meta=explicit, no marks] table[x=t, y expr=0, meta=m] {\barC};
\addplot[mesh, colormap name=timecool, line width=2.2bp, point meta=explicit, no marks] table[x=t, y expr=19, meta=m] {\barA};
\addplot[mesh, colormap name=timecool, line width=2.2bp, point meta=explicit, no marks] table[x=t, y expr=19, meta=m] {\barB};
\addplot[mesh, colormap name=timecool, line width=2.2bp, point meta=explicit, no marks] table[x=t, y expr=19, meta=m] {\barC};

\addplot[black, line width=0.55bp, no marks] table[x=t, y=d] {\bottomtrace};

\addplot[scatter, only marks, mark=square*, mark size=1.3bp, colorbar source,
  scatter src=explicit,
  scatter/use mapped color={draw=mapped color, fill=mapped color}]
  table[x=t, y=d, meta=c] {\casts};

\draw[line width=2bp] (axis cs:2751,6.97) ellipse [x radius=563, y radius=5.66];
\draw[line width=2bp] (axis cs:3792,9.8) ellipse [x radius=243, y radius=2.65];

\node[xshift=-22.5bp, rotate=90, font=\fontsize{7.5}{8}\selectfont\bfseries] at (axis cs:0,9.5) {Depth(m)};
\node[font=\fontsize{5.9}{7}\selectfont\bfseries] at (axis cs:3050,19) [yshift=-15.5bp] {\sx{Elapsed Time(sec)}};
\node[anchor=west, font=\fontsize{9.5}{11}\selectfont\bfseries, inner sep=0pt] at (axis cs:6170,19.49) {\sx{totvol(ul/l)}};
\end{axis}
\end{tikzpicture}
\end{document}
